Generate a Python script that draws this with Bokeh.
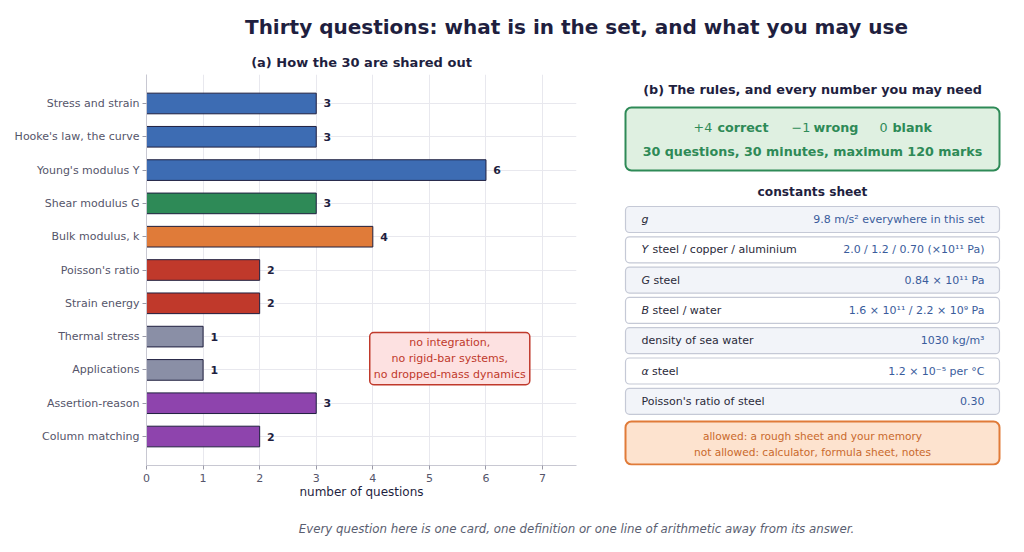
from bokeh.plotting import figure
from bokeh.layouts import column, row
from bokeh.models import Range1d, FixedTicker, Label, ColumnDataSource
from bokeh.core.properties import value
from bokeh.embed import file_html
from bokeh.resources import INLINE

FONT = "DejaVu Sans"
NAVY = "#1f1f3f"

# chart data
topics = [
    "Stress and strain", "Hooke's law, the curve", "Young's modulus Y",
    "Shear modulus G", "Bulk modulus, k", "Poisson's ratio", "Strain energy",
    "Thermal stress", "Applications", "Assertion-reason", "Column matching",
]
counts = [3, 3, 6, 3, 4, 2, 2, 1, 1, 3, 2]
bar_colors = [
    "#3d6cb3", "#3d6cb3", "#3d6cb3", "#2e8a57", "#e07b39", "#c0392b",
    "#c0392b", "#8a8fa6", "#8a8fa6", "#8e44ad", "#8e44ad",
]
x_ticks = [0, 1, 2, 3, 4, 5, 6, 7]

const_names = [
    ("g", ""), ("Y", "steel / copper / aluminium"), ("G", "steel"),
    ("B", "steel / water"), ("", "density of sea water"), ("α", "steel"),
    ("", "Poisson's ratio of steel"),
]
const_values = [
    "9.8 m/s² everywhere in this set",
    "2.0 / 1.2 / 0.70 (×10¹¹ Pa)",
    "0.84 × 10¹¹ Pa",
    "1.6 × 10¹¹ / 2.2 × 10⁹ Pa",
    "1030 kg/m³",
    "1.2 × 10⁻⁵ per °C",
    "0.30",
]

# frame borders shared by both panels of the middle row
BORDER_TOP = 30
BORDER_BOTTOM = 40
ROW_TOP = 44
ROW_H = 461


def blank(w, h, xr, yr, **kw):
    f = figure(width=w, height=h, output_backend="svg", toolbar_location=None,
               x_range=Range1d(*xr), y_range=Range1d(*yr),
               min_border=0, outline_line_color=None, **kw)
    f.axis.visible = False
    f.grid.visible = False
    return f


def txt(f, x, y, s, size=11, color=NAVY, style="normal", align="left", baseline="middle"):
    f.text(x=[x], y=[y], text=[s], text_font=value(FONT), text_font_size=f"{size}px",
           text_color=color, text_font_style=style, text_align=align,
           text_baseline=baseline)


# --- title strip (page coordinates)
top = blank(1016, ROW_TOP, (0, 1016), (ROW_TOP, 0))
txt(top, 576, 26, "Thirty questions: what is in the set, and what you may use",
    size=20, style="bold", align="center")

# --- left: bar chart
idx = list(range(len(topics)))
src = ColumnDataSource(dict(y=idx, n=counts, c=bar_colors,
                            lx=[v + 0.13 for v in counts], lab=[str(v) for v in counts]))

p = figure(width=600, height=ROW_H, output_backend="svg", toolbar_location=None,
           x_range=Range1d(0, 7.6), y_range=Range1d(len(topics) - 1 + 0.87, -0.87),
           min_border_left=146, min_border_right=24, min_border_top=BORDER_TOP,
           min_border_bottom=BORDER_BOTTOM, outline_line_color=None,
           title="(a) How the 30 are shared out")
p.title.align = "center"
p.title.text_font = FONT
p.title.text_font_size = "13px"
p.title.text_color = NAVY
p.title.text_font_style = "bold"

p.hbar(y="y", right="n", left=0, height=0.62, fill_color="c",
       line_color="#1f1f3f", line_width=1, source=src)
p.text(x="lx", y="y", text="lab", source=src, text_font=value(FONT),
       text_font_size="11px", text_font_style="bold", text_color=NAVY,
       text_baseline="middle")

p.xaxis.ticker = FixedTicker(ticks=x_ticks)
p.yaxis.ticker = FixedTicker(ticks=idx)
p.yaxis.major_label_overrides = {i: t for i, t in zip(idx, topics)}
p.xaxis.axis_label = "number of questions"
p.xaxis.axis_label_text_font = FONT
p.xaxis.axis_label_text_font_size = "12px"
p.xaxis.axis_label_text_font_style = "normal"
p.xaxis.axis_label_text_color = NAVY
p.xaxis.axis_label_standoff = 0
for ax in (p.xaxis, p.yaxis):
    ax.axis_line_color = "#c8c8d2"
    ax.major_tick_line_color = "#9a9aa8"
    ax.major_tick_out = 4
    ax.major_tick_in = 0
    ax.minor_tick_line_color = None
    ax.major_label_text_font = FONT
    ax.major_label_text_font_size = "11px"
    ax.major_label_text_color = "#55556a"
p.yaxis.major_label_standoff = 3
p.xaxis.major_label_standoff = 4
p.grid.grid_line_color = "#e8e8ee"
p.ygrid.ticker = FixedTicker(ticks=idx)

p.add_layout(Label(x=5.36, y=7.66, text="no integration,\nno rigid-bar systems,\nno dropped-mass dynamics",
                   text_font=FONT, text_font_size="11px", text_color="#c0392b",
                   text_align="center", text_baseline="middle",
                   background_fill_color="#fde1e1", border_line_color="#c0392b",
                   border_line_width=1.5, padding=4, border_radius=4))

# --- right: rules and constants (page coordinates inside the aligned frame)
r = blank(416, ROW_H, (600, 1016),
          (ROW_TOP + ROW_H - BORDER_BOTTOM, ROW_TOP + BORDER_TOP),
          min_border_top=BORDER_TOP, min_border_bottom=BORDER_BOTTOM)
txt(r, 812, 89, "(b) The rules, and every number you may need", size=12.8, style="bold", align="center")

GREEN = "#2e8a57"
r.quad(left=[625], right=[999], top=[107], bottom=[170], fill_color="#dff0e1",
       line_color=GREEN, line_width=2, border_radius=6)
for x, s, st in [(693, "+4", "normal"), (717, "correct", "bold"),
                 (791, "−1", "normal"), (813, "wrong", "bold"),
                 (879, "0", "normal"), (892, "blank", "bold")]:
    txt(r, x, 127, s, size=12.7, color=GREEN, style=st)
txt(r, 812, 151, "30 questions, 30 minutes, maximum 120 marks", size=12.7, color=GREEN,
    style="bold", align="center")

txt(r, 812, 191, "constants sheet", size=12.2, style="bold", align="center")

sym_w = {"g": 7, "Y": 11, "G": 12, "B": 11, "α": 10.5}
row_top = 206
row_h = 26
row_step = 30.3
for i, ((sym, rest), val) in enumerate(zip(const_names, const_values)):
    t = row_top + i * row_step
    cy = t + row_h / 2
    r.quad(left=[625], right=[999], top=[t], bottom=[t + row_h],
           fill_color="#f2f4f9" if i % 2 == 0 else "#ffffff",
           line_color="#c5c9d6", line_width=1.2, border_radius=4)
    x0 = 641
    if sym:
        txt(r, x0, cy, sym, color="#2a2a3a", style="italic")
        x0 += sym_w[sym]
    if rest:
        txt(r, x0, cy, rest, color="#2a2a3a")
    txt(r, 984, cy, val, color="#3a5c9c", align="right")

ORANGE = "#e07b39"
r.quad(left=[625], right=[999], top=[421], bottom=[464], fill_color="#fde3cf",
       line_color=ORANGE, line_width=2, border_radius=6)
txt(r, 812, 435, "allowed: a rough sheet and your memory", size=10.6, color="#c9692c", align="center")
txt(r, 812, 451, "not allowed: calculator, formula sheet, notes", size=10.6, color="#c9692c", align="center")

# --- caption strip
bot = blank(1016, 40, (0, 1016), (40, 0))
txt(bot, 576, 23, "Every question here is one card, one definition or one line of arithmetic away from its answer.",
    size=11.8, color="#5a5e70", style="italic", align="center")

layout = column(top, row(p, r), bot)
open("out.html", "w").write(file_html(layout, INLINE))
